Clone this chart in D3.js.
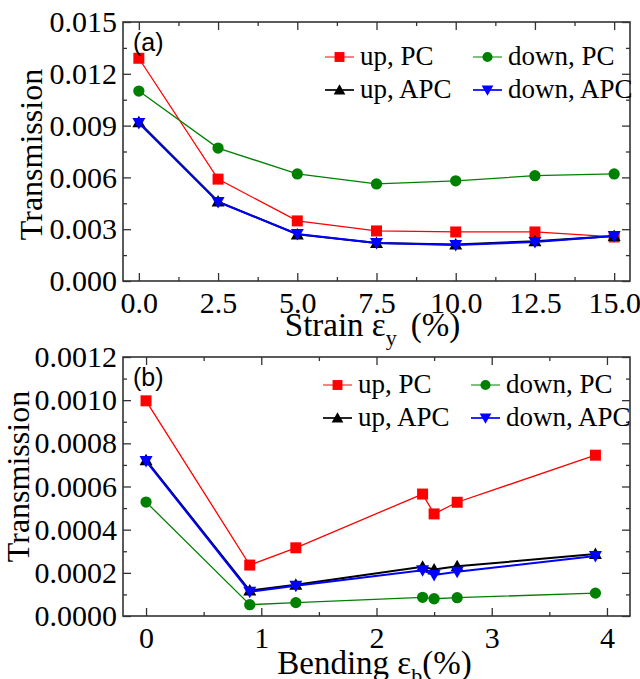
<!DOCTYPE html>
<html>
<head>
<meta charset="utf-8">
<script src="https://cdn.jsdelivr.net/npm/d3@7"></script>
<style>
  body { margin: 0; background: #fff; }
</style>
</head>
<body>
<div id="chart"></div>
<script>
// data for panel (a): strain
var strainX = [0, 2.5, 5.0, 7.5, 10.0, 12.5, 15.0];
var strainUpPC = [0.0129, 0.0059, 0.00348, 0.0029, 0.00284, 0.00284, 0.00255];
var strainDownPC = [0.0110, 0.0077, 0.0062, 0.00562, 0.0058, 0.0061, 0.0062];
var strainUpAPC = [0.0092, 0.0046, 0.0027, 0.0022, 0.00212, 0.0023, 0.0026];
var strainDownAPC = [0.00915, 0.00458, 0.00272, 0.0022, 0.00209, 0.00226, 0.0026];
var strainXTicks = [0, 2.5, 5, 7.5, 10, 12.5, 15];
var strainYTicks = [0, 0.003, 0.006, 0.009, 0.012, 0.015];

// data for panel (b): bending
var bendX = [0, 0.9, 1.3, 2.4, 2.5, 2.7, 3.9];
var bendUpPC = [0.000997, 0.000236, 0.000316, 0.000565, 0.000473, 0.000527, 0.000745];
var bendDownPC = [0.000528, 0.0000525, 0.000062, 0.0000865, 0.00008, 0.000085, 0.000106];
var bendUpAPC = [0.000722, 0.000118, 0.000145, 0.000228, 0.000215, 0.00023, 0.000287];
var bendDownAPC = [0.000718, 0.000112, 0.00014, 0.000212, 0.00019, 0.000205, 0.000278];
var bendXTicks = [0, 1, 2, 3, 4];
var bendYTicks = [0, 0.0002, 0.0004, 0.0006, 0.0008, 0.0010, 0.0012];

var seriesNames = ["up, PC", "down, PC", "up, APC", "down, APC"];
var seriesColors = ["#ff0000", "#008000", "#000000", "#0000ff"];
var seriesShapes = ["square", "circle", "up", "down"];
var seriesWidths = [1.3, 1.3, 2, 2];

var width = 640;
var height = 679;
var serif = "Liberation Serif";

var svg = d3
  .select("#chart")
  .append("svg")
  .attr("width", width)
  .attr("height", height);

// marker path for each shape
function markerPath(shape) {
  if (shape === "square") {
    return "M-5.5,-5.5H5.5V5.5H-5.5Z";
  }
  if (shape === "circle") {
    return d3.symbol().type(d3.symbolCircle).size(100)();
  }
  if (shape === "up") {
    return "M0,-6.5L6.5,5L-6.5,5Z";
  }
  return "M0,6.5L6.5,-5L-6.5,-5Z";
}

function drawPanel(opt) {
  var g = svg.append("g");

  var xScale = d3.scaleLinear().domain(opt.xDomain).range([opt.left, opt.right]);
  var yScale = d3.scaleLinear().domain(opt.yDomain).range([opt.bottom, opt.top]);

  // minor ticks halfway between majors
  var xMinor = [];
  for (var i = 0; i < opt.xTicks.length - 1; i++) {
    xMinor.push((opt.xTicks[i] + opt.xTicks[i + 1]) / 2);
  }
  var yMinor = [];
  for (var j = 0; j < opt.yTicks.length - 1; j++) {
    yMinor.push((opt.yTicks[j] + opt.yTicks[j + 1]) / 2);
  }

  // inward ticks on all four sides
  var axes = [
    { ax: d3.axisBottom(xScale), t: "translate(0," + opt.bottom + ")", v: opt.xTicks, m: xMinor, lab: true, isX: true },
    { ax: d3.axisTop(xScale), t: "translate(0," + opt.top + ")", v: opt.xTicks, m: xMinor, lab: false, isX: true },
    { ax: d3.axisLeft(yScale), t: "translate(" + opt.left + ",0)", v: opt.yTicks, m: yMinor, lab: true, isX: false },
    { ax: d3.axisRight(yScale), t: "translate(" + opt.right + ",0)", v: opt.yTicks, m: yMinor, lab: false, isX: false }
  ];
  axes.forEach(function(a) {
    // minor
    g.append("g")
      .attr("transform", a.t)
      .call(a.ax.tickValues(a.m).tickSizeInner(-4).tickSizeOuter(0).tickFormat(""))
      .call(function(s) { s.select(".domain").remove(); })
      .selectAll("line").attr("stroke", "#333").attr("stroke-width", 1.3);
    // major
    var ag = g.append("g")
      .attr("transform", a.t)
      .call(a.ax.tickValues(a.v).tickSizeInner(-8).tickSizeOuter(0)
        .tickPadding(a.isX ? 11 : 6)
        .tickFormat(a.lab ? opt.fmt(a.isX) : ""));
    ag.select(".domain").remove();
    ag.selectAll("line").attr("stroke", "#333").attr("stroke-width", 1.3);
    ag.selectAll("text")
      .attr("font-family", serif)
      .attr("font-size", 30)
      .attr("fill", "#000");
  });

  // frame
  g.append("rect")
    .attr("x", opt.left)
    .attr("y", opt.top)
    .attr("width", opt.right - opt.left)
    .attr("height", opt.bottom - opt.top)
    .attr("fill", "none")
    .attr("stroke", "#333")
    .attr("stroke-width", 1.6);

  // series lines and markers
  var line = d3.line()
    .x(function(d) { return xScale(d[0]); })
    .y(function(d) { return yScale(d[1]); });

  [0, 1, 2, 3].forEach(function(k) {
    var pts = opt.xs.map(function(x, n) { return [x, opt.series[k][n]]; });
    g.append("path")
      .datum(pts)
      .attr("d", line)
      .attr("fill", "none")
      .attr("stroke", seriesColors[k])
      .attr("stroke-width", seriesWidths[k]);
    g.selectAll(null)
      .data(pts)
      .enter()
      .append("path")
      .attr("d", markerPath(seriesShapes[k]))
      .attr("transform", function(d) {
        return "translate(" + xScale(d[0]) + "," + yScale(d[1]) + ")";
      })
      .attr("fill", seriesColors[k]);
  });

  // legend
  var legX = [opt.legX, opt.legX + 148];
  var legY = [opt.legY, opt.legY + 33];
  [0, 1, 2, 3].forEach(function(k) {
    var lx = legX[k % 2];
    var ly = legY[Math.floor(k / 2)];
    g.append("line")
      .attr("x1", lx).attr("x2", lx + 29)
      .attr("y1", ly).attr("y2", ly)
      .attr("stroke", seriesColors[k])
      .attr("stroke-width", seriesWidths[k] - 0.3);
    g.append("path")
      .attr("d", markerPath(seriesShapes[k]))
      .attr("transform", "translate(" + (lx + 14.5) + "," + ly + ") scale(0.9)")
      .attr("fill", seriesColors[k]);
    g.append("text")
      .attr("x", lx + 35)
      .attr("y", ly + 8)
      .attr("font-family", serif)
      .attr("font-size", 27)
      .text(seriesNames[k]);
  });

  // panel label
  g.append("text")
    .attr("x", opt.left + 10)
    .attr("y", opt.top + 29)
    .attr("font-family", "Liberation Sans")
    .attr("font-size", 25)
    .text(opt.label);

  // y title
  g.append("text")
    .attr("transform", "translate(" + opt.yTitleX + "," + ((opt.top + opt.bottom) / 2 + opt.yTitleShift) + ") rotate(-90)")
    .attr("text-anchor", "middle")
    .attr("font-family", serif)
    .attr("font-size", 32)
    .text("Transmission");

  // x title with subscript
  var xt = g.append("text")
    .attr("x", (opt.left + opt.right) / 2 + opt.titleShift)
    .attr("y", opt.bottom + opt.titleDrop)
    .attr("text-anchor", "middle")
    .attr("font-family", serif)
    .attr("font-size", 33);
  xt.append("tspan").text(opt.title[0]);
  xt.append("tspan").attr("dy", 9).attr("font-size", 22).text(opt.title[1]);
  xt.append("tspan").attr("dy", -9).attr("dx", opt.gap).text(opt.title[2]);
}

// panel (a)
drawPanel({
  left: 123, right: 630, top: 22, bottom: 281,
  xDomain: [-0.5, 15.5], yDomain: [0, 0.015],
  xTicks: strainXTicks, yTicks: strainYTicks,
  xs: strainX,
  series: [strainUpPC, strainDownPC, strainUpAPC, strainDownAPC],
  fmt: function(isX) { return isX ? d3.format(".1f") : d3.format(".3f"); },
  legX: 325, legY: 57,
  label: "(a)",
  title: ["Strain \u03b5", "y", "(%)"],
  gap: 14,
  titleShift: -4,
  titleDrop: 55,
  yTitleX: 42,
  yTitleShift: 3
});

// panel (b)
drawPanel({
  left: 123, right: 630, top: 357, bottom: 616,
  xDomain: [-0.2, 4.2], yDomain: [0, 0.0012],
  xTicks: bendXTicks, yTicks: bendYTicks,
  xs: bendX,
  series: [bendUpPC, bendDownPC, bendUpAPC, bendDownAPC],
  fmt: function(isX) { return isX ? d3.format("d") : d3.format(".4f"); },
  legX: 323, legY: 385,
  label: "(b)",
  title: ["Bending \u03b5", "b", "(%)"],
  gap: 0,
  titleShift: -2,
  titleDrop: 58,
  yTitleX: 29,
  yTitleShift: -10
});
</script>
</body>
</html>
